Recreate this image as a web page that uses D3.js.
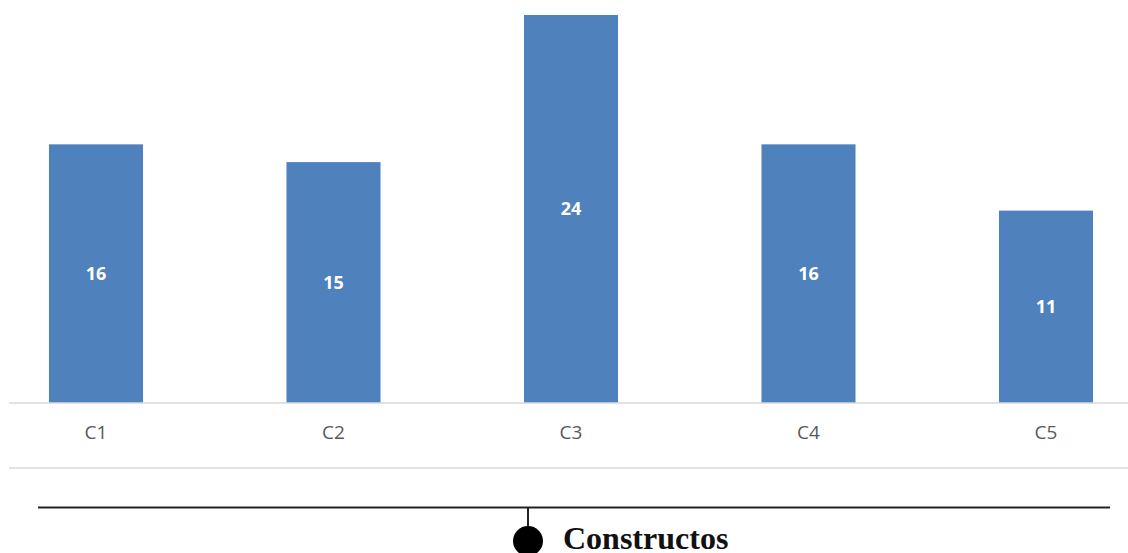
<!DOCTYPE html>
<html>
<head>
<meta charset="utf-8">
<script src="https://cdn.jsdelivr.net/npm/d3@7"></script>
<style>
  body { margin: 0; background: #fff; }
  svg { display: block; }
</style>
</head>
<body>
<svg id="chart"></svg>
<script>
// data
var categories = ["C1", "C2", "C3", "C4", "C5"];
var barHeights = [16, 14.9, 24, 16, 11.9];   // bar lengths as drawn
var valueLabels = ["16", "15", "24", "16", "11"]; // printed labels
var footerText = "Constructos";

var width = 1128, height = 553;
var baseline = 403;

var svg = d3.select("#chart")
            .attr("width", width)
            .attr("height", height);

var xScale = d3.scaleBand()
               .domain(categories)
               .range([-22.75, 1164.75])
               .paddingInner(0.604)
               .paddingOuter(0.302);

var yScale = d3.scaleLinear()
               .domain([0, 24])
               .range([baseline, 15]);

// bars
svg.selectAll("rect.bar")
   .data(categories)
   .enter()
   .append("rect")
   .attr("class", "bar")
   .attr("x", function(d){ return xScale(d); })
   .attr("width", xScale.bandwidth())
   .attr("y", function(d, i){ return yScale(barHeights[i]); })
   .attr("height", function(d, i){ return baseline - yScale(barHeights[i]); })
   .attr("fill", "#4f81bd");

// labels inside bars
svg.selectAll("text.val")
   .data(categories)
   .enter()
   .append("text")
   .attr("class", "val")
   .attr("x", function(d){ return xScale(d) + xScale.bandwidth() / 2; })
   .attr("y", function(d, i){ return (yScale(barHeights[i]) + baseline) / 2; })
   .attr("dy", "0.35em")
   .attr("text-anchor", "middle")
   .attr("fill", "#fff")
   .style("font", "bold 18px 'Open Sans', sans-serif")
   .text(function(d, i){ return valueLabels[i]; });

// category axis
var xAxis = d3.axisBottom(xScale).tickSize(0).tickPadding(23);
var gx = svg.append("g")
            .attr("transform", "translate(0," + baseline + ")")
            .call(xAxis);
gx.select(".domain").remove();
gx.selectAll("text")
  .attr("fill", "#595959")
  .style("font", "19px 'Open Sans', sans-serif");

svg.append("line")
   .attr("x1", 9).attr("x2", width)
   .attr("y1", baseline).attr("y2", baseline)
   .attr("stroke", "#d9d9d9").attr("stroke-width", 1.5);

svg.append("line")
   .attr("x1", 9).attr("x2", width)
   .attr("y1", 468).attr("y2", 468)
   .attr("stroke", "#d9d9d9").attr("stroke-width", 1.5);

// footer bracket
svg.append("line")
   .attr("x1", 38).attr("x2", 1110)
   .attr("y1", 507.5).attr("y2", 507.5)
   .attr("stroke", "#222").attr("stroke-width", 2);

svg.append("line")
   .attr("x1", 528).attr("x2", 528)
   .attr("y1", 507).attr("y2", 530)
   .attr("stroke", "#222").attr("stroke-width", 2);

svg.append("circle")
   .attr("cx", 528).attr("cy", 541)
   .attr("r", 15)
   .attr("fill", "#000");

svg.append("text")
   .attr("x", 563).attr("y", 549)
   .attr("fill", "#111")
   .style("font", "bold 32px 'Liberation Serif', serif")
   .text(footerText);
</script>
</body>
</html>
